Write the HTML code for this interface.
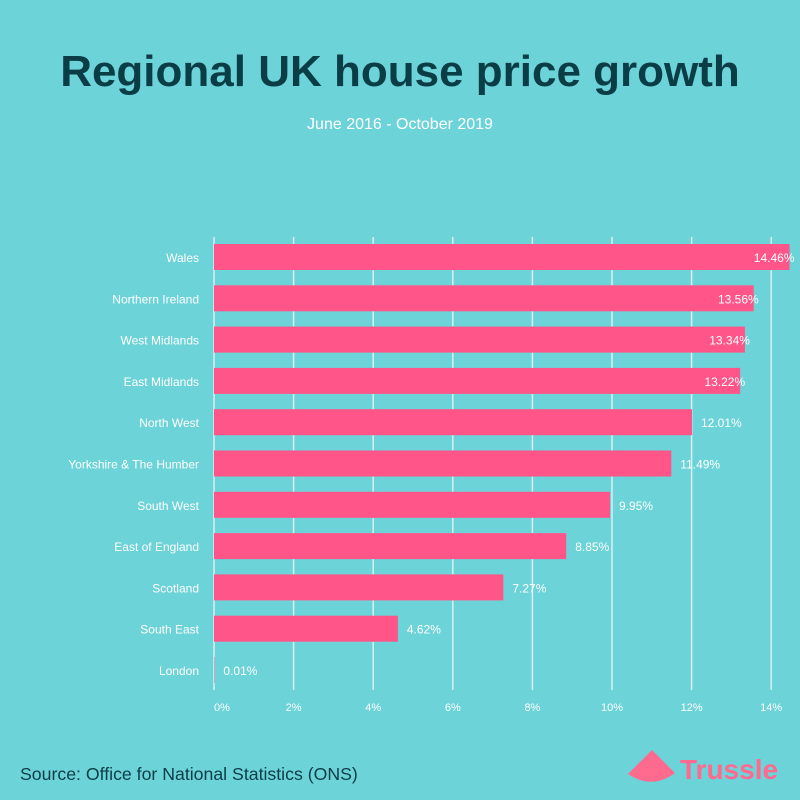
<!DOCTYPE html>
<html><head><meta charset="utf-8"><style>
body{margin:0;background:#6cd3d8;}
svg{display:block;font-family:"Liberation Sans",sans-serif;}
</style></head><body>
<svg width="800" height="800">
<rect width="800" height="800" fill="#6cd3d8"/>
<text x="400" y="86" text-anchor="middle" font-size="44" font-weight="bold" fill="#0b3d47">Regional UK house price growth</text>
<text x="400" y="129" text-anchor="middle" font-size="16" fill="#ffffff">June 2016 - October 2019</text>
<g id="grid"></g><g id="bars"></g><g id="labels"></g><g id="ticks"></g>
<text x="20" y="780" font-size="17.7" fill="#0b3d47">Source: Office for National Statistics (ONS)</text>
<g>
<path d="M628 774 L652 750 L675 773 Q652 790 628 774 Z" fill="#ff6b8f"/>
<text x="680" y="779" font-size="28" font-weight="bold" fill="#ff6b8f">Trussle</text>
</g>
</svg>
<script>
const categories=["Wales","Northern Ireland","West Midlands","East Midlands","North West","Yorkshire & The Humber","South West","East of England","Scotland","South East","London"];
const values=[14.46,13.56,13.34,13.22,12.01,11.49,9.95,8.85,7.27,4.62,0.01];
const valueLabels=["14.46%","13.56%","13.34%","13.22%","12.01%","11.49%","9.95%","8.85%","7.27%","4.62%","0.01%"];
const ticks=[0,2,4,6,8,10,12,14];
const ns="http://www.w3.org/2000/svg";
const x=v=>214+v*39.8;
const y=i=>257+i*41.3;
function mk(t,a,p,txt){const e=document.createElementNS(ns,t);for(const k in a)e.setAttribute(k,a[k]);if(txt!==undefined)e.textContent=txt;document.getElementById(p).appendChild(e);return e;}
ticks.forEach(t=>{
 const l=mk('line',{x1:x(t),x2:x(t),y1:237,y2:690,stroke:'#d9f0f2','stroke-width':1.5},'grid');
 
 
 const tx=mk('text',{x:x(t)+(t==0?8:0),y:711,'text-anchor':'middle','font-size':11,fill:'#ffffff'},'ticks',t+'%');
 
 
});
categories.forEach((c,i)=>{
 const r=mk('rect',{x:x(0),y:y(i)-13,width:x(values[i])-x(0),height:26,fill:'#ff5588'},'bars');
 
 
 const cl=mk('text',{x:199,y:y(i)+5,'text-anchor':'end','font-size':12,fill:'#ffffff'},'labels',c);
 
 
 const inside=values[i]>13;
 const vl=mk('text',{x:inside?x(values[i])+5:x(values[i])+9,y:y(i)+5,'text-anchor':inside?'end':'start','font-size':12,fill:'#ffffff'},'labels',valueLabels[i]);
 
 
});
</script>
</body></html>
